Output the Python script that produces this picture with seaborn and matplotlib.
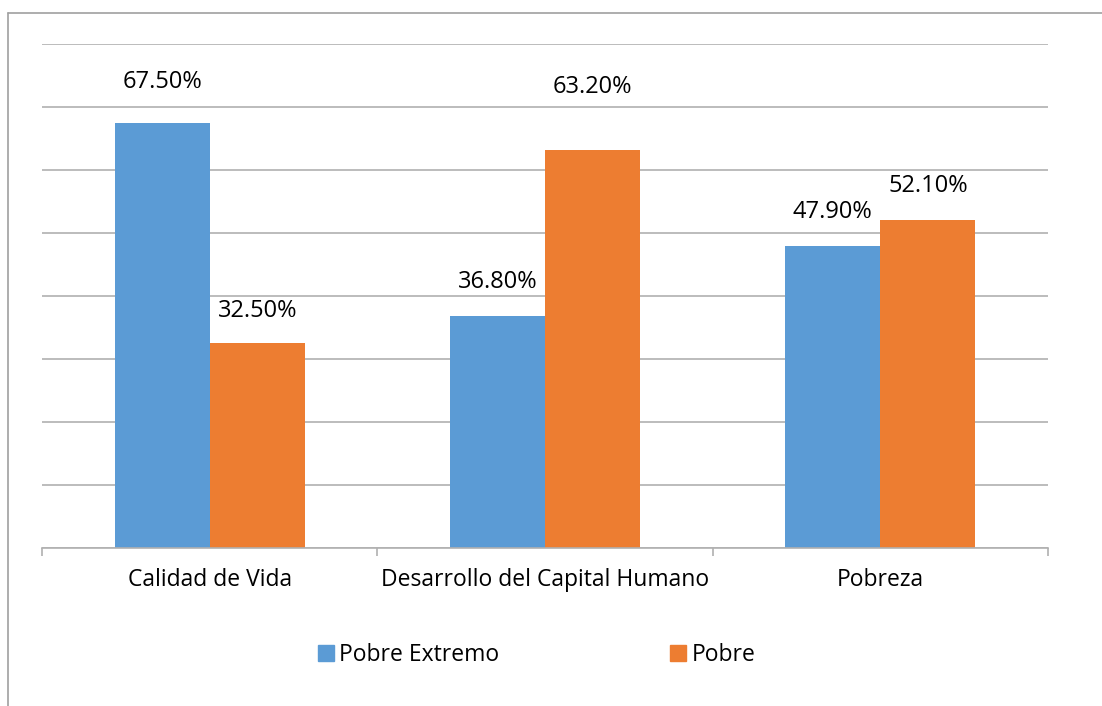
import matplotlib
matplotlib.use("Agg")
import matplotlib.pyplot as plt
import pandas as pd
import seaborn as sns
from matplotlib.lines import Line2D
from matplotlib.patches import Patch

categories = ["Calidad de Vida", "Desarrollo del Capital Humano", "Pobreza"]
pobre_extremo = [67.5, 36.8, 47.9]
pobre = [32.5, 63.2, 52.1]
series = ["Pobre Extremo", "Pobre"]
colors = ["#5B9BD5", "#ED7D31"]

df = pd.DataFrame({
    "categoria": categories * 2,
    "valor": pobre_extremo + pobre,
    "serie": [series[0]] * 3 + [series[1]] * 3,
})

sns.set_style("white")
plt.rcParams["font.family"] = ["Open Sans", "DejaVu Sans"]
plt.rcParams["text.color"] = "black"
plt.rcParams["xtick.color"] = "black"

fig = plt.figure(figsize=(11.02, 7.06), dpi=100)
ax = fig.add_axes([0.0381, 0.2238, 0.9129, 0.7139])

sns.barplot(data=df, x="categoria", y="valor", hue="serie", palette=colors,
            width=0.567, saturation=1, linewidth=0, ax=ax, legend=False)

ax.set_ylim(0, 80)
ax.set_xlim(-0.5, 2.5)
ax.set_yticks(range(0, 81, 10))
ax.yaxis.grid(True, color="#b0b0b0", linewidth=1.2)
ax.set_axisbelow(True)
ax.tick_params(axis="y", left=False, labelleft=False)
ax.tick_params(axis="x", which="major", length=0, pad=14.5, labelsize=16.5,
               labelcolor="black")
ax.set_xticks([-0.5, 0.5, 1.5, 2.5], minor=True)
ax.tick_params(axis="x", which="minor", bottom=True, length=6,
               color="#b0b0b0", width=1.2)
ax.set_xlabel("")
ax.set_ylabel("")
for s in ["top", "right", "left"]:
    ax.spines[s].set_visible(False)
ax.spines["bottom"].set_color("#b0b0b0")
ax.spines["bottom"].set_linewidth(1.2)

# data labels, pixel lift above each bar
lifts = [[41, 34, 34], [32, 63, 34]]
for i, cont in enumerate(ax.containers):
    for j, bar in enumerate(cont):
        h = bar.get_height()
        ax.annotate(f"{h:.2f}%", (bar.get_x() + bar.get_width() / 2, h),
                    xytext=(0, lifts[i][j] * 0.72), textcoords="offset points",
                    ha="center", va="center", fontsize=17, color="black")

handles = [Patch(color=c) for c in colors]
fig.legend(handles, series, loc="center", bbox_to_anchor=(0.487, 0.072),
           ncol=2, frameon=False, fontsize=16.5, columnspacing=7.45,
           handlelength=0.7, handleheight=0.7, handletextpad=0.25)

# outer frame lines (top and left)
fig.add_artist(Line2D([8 / 1102, 1], [1 - 13 / 706] * 2, color="#a0a0a0", lw=1.2))
fig.add_artist(Line2D([8 / 1102] * 2, [0, 1 - 13 / 706], color="#a0a0a0", lw=1.2))

fig.savefig("out.png", dpi=100)
